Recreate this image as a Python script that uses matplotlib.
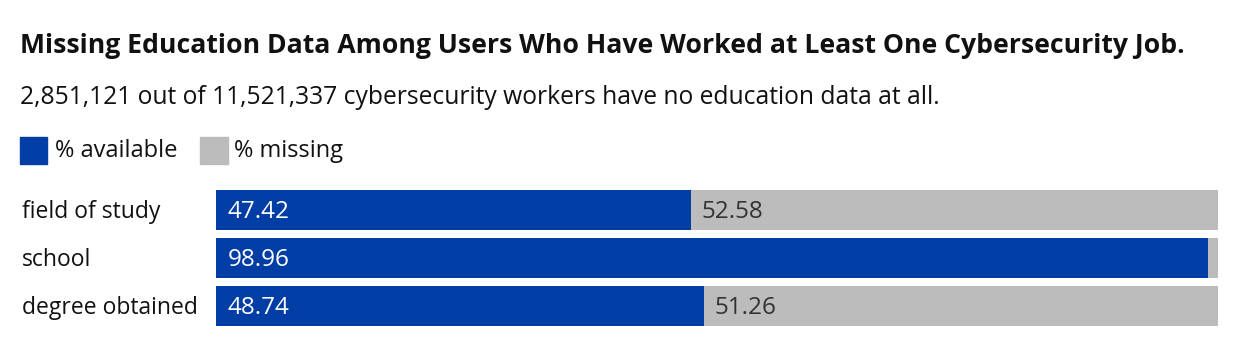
import matplotlib
matplotlib.use("Agg")
import matplotlib.pyplot as plt
from matplotlib.patches import Rectangle

plt.rcParams['font.family'] = ['Open Sans', 'DejaVu Sans']

categories = ["field of study", "school", "degree obtained"]
available = [47.42, 98.96, 48.74]
missing = [52.58, 1.04, 51.26]
legend_labels = ["% available", "% missing"]
title = "Missing Education Data Among Users Who Have Worked at Least One Cybersecurity Job."
subtitle = "2,851,121 out of 11,521,337 cybersecurity workers have no education data at all."

BLUE = "#003DA5"
GRAY = "#BBBCBB"
FS_VAL = 17.5
FS_CAT = 16.5

W, H = 1240, 348
fig = plt.figure(figsize=(W / 100, H / 100), dpi=100)

ax = fig.add_axes([216 / W, (H - 326) / H, (1218 - 216) / W, 136 / H])
y = list(range(len(categories)))
bh = 40 / 48
ax.barh(y, available, height=bh, color=BLUE)
ax.barh(y, missing, left=available, height=bh, color=GRAY)
ax.set_xlim(0, 100)
ax.set_ylim(len(categories) - 1 + bh / 2, -bh / 2)
ax.axis("off")

for i, (a, m) in enumerate(zip(available, missing)):
    ax.annotate(f"{a:.2f}", xy=(0, i), xytext=(12, -2), textcoords="offset pixels",
                ha="left", va="center", color="white", fontsize=FS_VAL)
    if m > 5:
        ax.annotate(f"{m:.2f}", xy=(a, i), xytext=(10, -2), textcoords="offset pixels",
                    ha="left", va="center", color="#333333", fontsize=FS_VAL)
    ax.annotate(categories[i], xy=(0, i), xycoords=("figure pixels", "data"),
                xytext=(22, -2), textcoords="offset pixels",
                ha="left", va="center", color="#111111", fontsize=FS_CAT)

fig.text(20 / W, 1 - 46 / H, title, ha="left", va="center", fontsize=19.2,
         fontweight="bold", color="#111111")
fig.text(20 / W, 1 - 97 / H, subtitle, ha="left", va="center", fontsize=17.7,
         color="#111111")

# legend
fig.patches.append(Rectangle((20 / W, 1 - 164 / H), 27 / W, 27 / H,
                             transform=fig.transFigure, color=BLUE))
fig.text(55 / W, 1 - 151 / H, legend_labels[0], ha="left", va="center", fontsize=17, color="#111111")
fig.patches.append(Rectangle((200 / W, 1 - 164 / H), 28 / W, 27 / H,
                             transform=fig.transFigure, color=GRAY))
fig.text(234 / W, 1 - 151 / H, legend_labels[1], ha="left", va="center", fontsize=17, color="#111111")

fig.savefig("out.png", dpi=100, facecolor="white")
